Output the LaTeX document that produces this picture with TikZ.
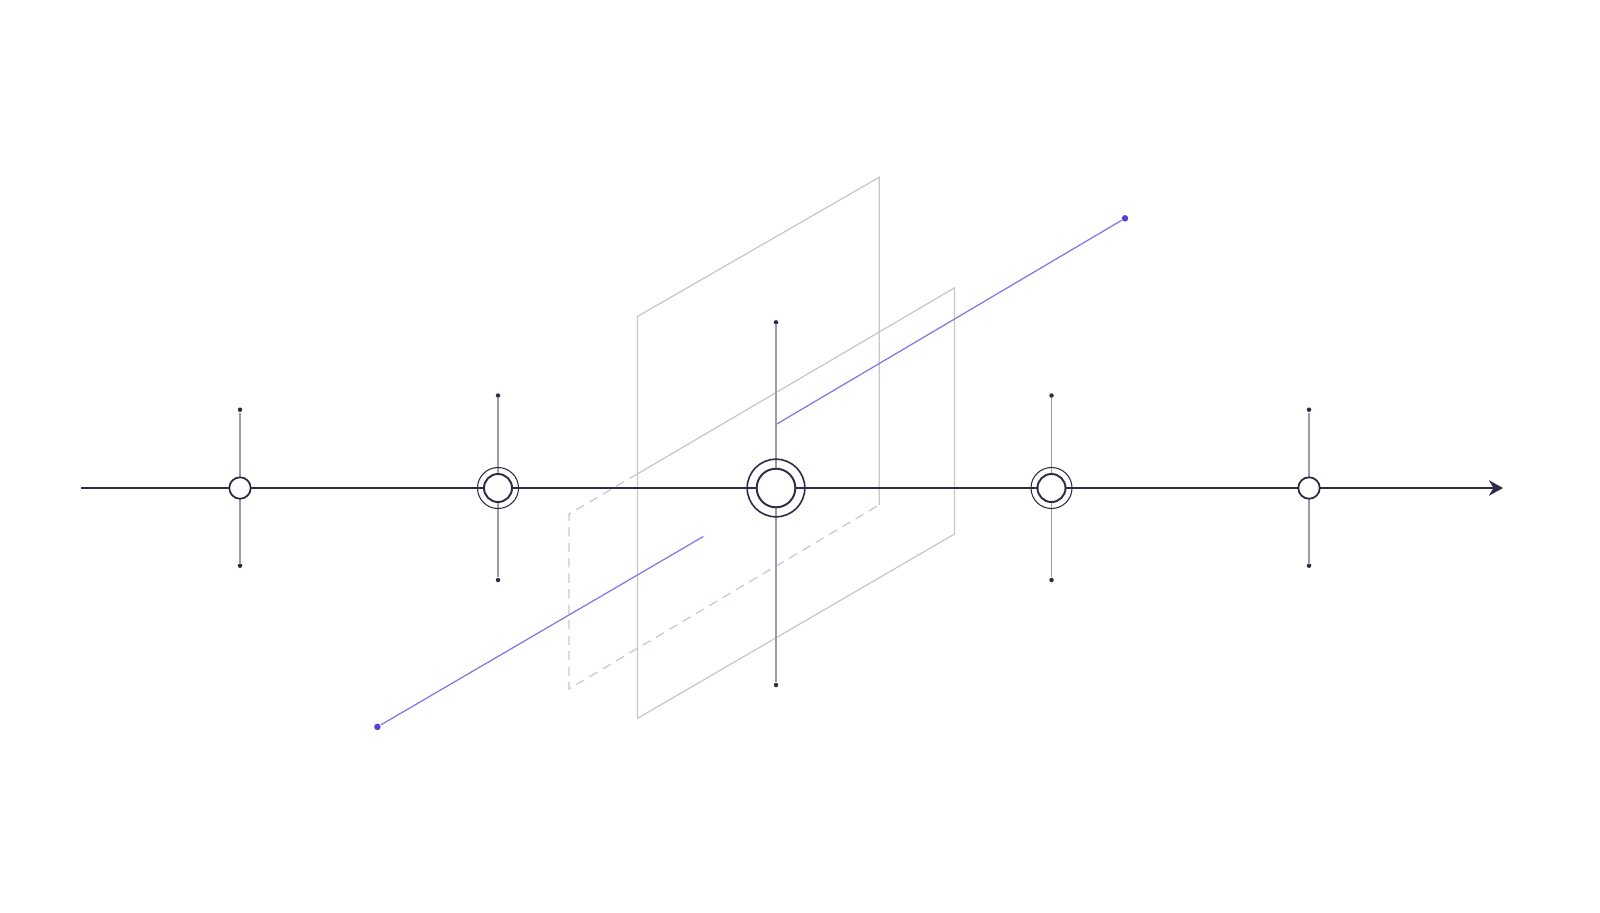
\documentclass[tikz,border=0pt]{standalone}
\usetikzlibrary{arrows.meta}
\definecolor{ink}{HTML}{2B2D42}
\definecolor{stemgray}{HTML}{9C9CA8}
\definecolor{planegray}{HTML}{C6C6CE}
\definecolor{hiddenblue}{HTML}{C3C6DE}
\definecolor{violetline}{HTML}{8276E2}
\definecolor{violetdot}{HTML}{5A3FD6}
\begin{document}
\begin{tikzpicture}[x=0.01cm,y=-0.01cm]
\useasboundingbox (0,0) rectangle (1600,912);

%styles
\tikzstyle{axisline} = [draw=ink, line width=0.6pt, -{Stealth[length=4pt,width=4.4pt]}]
\tikzstyle{stem} = [draw=stemgray, line width=0.32pt]
\tikzstyle{enddot} = [circle, fill=ink, inner sep=0pt, minimum size=0.045cm]
\tikzstyle{planeline} = [draw=planegray, line width=0.35pt, line join=miter]
\tikzstyle{hiddenline} = [draw=hiddenblue, line width=0.35pt, dash pattern=on 2.6pt off 1.8pt]
\tikzstyle{rayline} = [draw=violetline, line width=0.35pt]
\tikzstyle{raydot} = [circle, fill=violetdot, inner sep=0pt, minimum size=0.065cm]
\tikzstyle{smallring} = [circle, draw=ink, fill=white, line width=0.5pt, inner sep=0pt, minimum size=0.214cm]
\tikzstyle{midring} = [circle, draw=ink, fill=white, line width=0.55pt, inner sep=0pt, minimum size=0.28cm]
\tikzstyle{midhalo} = [circle, draw=ink, line width=0.3pt, inner sep=0pt, minimum size=0.41cm]
\tikzstyle{bigring} = [circle, draw=ink, fill=white, line width=0.55pt, inner sep=0pt, minimum size=0.386cm]
\tikzstyle{bighalo} = [circle, draw=ink, line width=0.45pt, inner sep=0pt, minimum size=0.576cm]

%planes
\coordinate (pA1) at (637.6,718.3);
\coordinate (pA2) at (637.6,316.4);
\coordinate (pA3) at (879.3,177.2);
\coordinate (pA4) at (879.3,504.8);
\coordinate (pB1) at (954.5,534.0);
\coordinate (pB2) at (954.5,287.8);
\coordinate (pB3) at (637.6,473.8);
\coordinate (pB4) at (568.9,514.1);
\coordinate (pB5) at (568.9,689.0);
\draw[planeline] (pA1) -- (pA2) -- (pA3) -- (pA4);
\draw[planeline] (pA1) -- (pB1) -- (pB2) -- (pB3);
\draw[hiddenline] (pB3) -- (pB4) -- (pB5) -- (pA4);

%rays
\coordinate (rayin) at (703.3,536.5);
\coordinate (rayout) at (776,424.5);
\node (rayA) [raydot] at (377.4,726.9) {};
\node (rayB) [raydot] at (1125,218.3) {};
\draw[rayline] (rayA) -- (rayin);
\draw[rayline] (rayout) -- (rayB);

%axis
\coordinate (axstart) at (81,488);
\coordinate (axend) at (1503,488);
\draw[axisline] (axstart) -- (axend);

%stems
\node (t1) [enddot] at (240,409.7) {};
\node (b1) [enddot] at (240,565.7) {};
\node (t2) [enddot] at (498,395.5) {};
\node (b2) [enddot] at (498,580.0) {};
\node (t3) [enddot] at (776,322.3) {};
\node (b3) [enddot] at (776,685.0) {};
\node (t4) [enddot] at (1051.5,395.5) {};
\node (b4) [enddot] at (1051.5,580.0) {};
\node (t5) [enddot] at (1309,409.7) {};
\node (b5) [enddot] at (1309,565.7) {};
\draw[stem] (t1) -- (b1);
\draw[stem] (t2) -- (b2);
\draw[stem] (t3) -- (b3);
\draw[stem] (t4) -- (b4);
\draw[stem] (t5) -- (b5);

%events
\node (h2) [midhalo] at (498,488) {};
\node (h3) [bighalo] at (776,488) {};
\node (h4) [midhalo] at (1051.5,488) {};
\node (e1) [smallring] at (240,488) {};
\node (e2) [midring] at (498,488) {};
\node (e3) [bigring] at (776,488) {};
\node (e4) [midring] at (1051.5,488) {};
\node (e5) [smallring] at (1309,488) {};

\end{tikzpicture}
\end{document}
